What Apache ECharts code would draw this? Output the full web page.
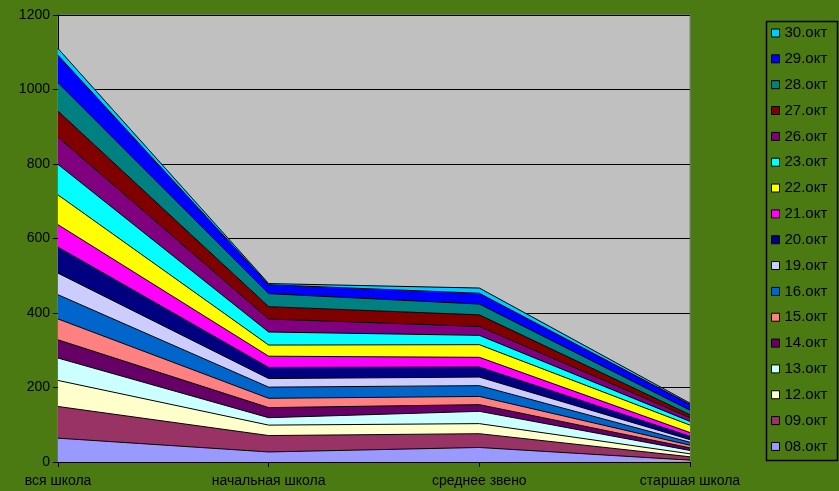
<!DOCTYPE html>
<html>
<head>
<meta charset="utf-8">
<script src="https://cdn.jsdelivr.net/npm/echarts@6/dist/echarts.min.js"></script>
<style>
html,body{margin:0;padding:0;background:#4B7A12;}
#c{width:839px;height:491px;}
</style>
</head>
<body>
<div id="c"></div>
<script>
const categories = ['вся школа', 'начальная школа', 'среднее звено', 'старшая школа'];
const yTicks = [0, 200, 400, 600, 800, 1000, 1200];

const s08 = [64, 27, 39, 5];
const s09 = [85, 44, 37, 9];
const s12 = [70, 28, 27, 8];
const s13 = [60, 20, 33, 9];
const s14 = [49, 27, 18, 7];
const s15 = [56, 25, 22, 7];
const s16 = [65, 30, 29, 8];
const s19 = [58, 23, 23, 7];
const s20 = [70, 30, 27, 9];
const s21 = [60, 30, 26, 10];
const s22 = [80, 30, 34, 20];
const s23 = [82, 35, 25, 10];
const s26 = [73, 35, 24, 10];
const s27 = [70, 33, 31, 8];
const s28 = [76, 35, 29, 12];
const s29 = [74, 24, 29, 16];
const s30 = [18, 3, 14, 3];

const seriesNames = ['08.окт','09.окт','12.окт','13.окт','14.окт','15.окт','16.окт','19.окт','20.окт','21.окт','22.окт','23.окт','26.окт','27.окт','28.окт','29.окт','30.окт'];
const seriesValues = [s08,s09,s12,s13,s14,s15,s16,s19,s20,s21,s22,s23,s26,s27,s28,s29,s30];
const seriesColors = ['#9999FF','#993366','#FFFFCC','#CCFFFF','#660066','#FF8080','#0066CC','#CCCCFF','#000080','#FF00FF','#FFFF00','#00FFFF','#800080','#800000','#008080','#0000FF','#00CCFF'];

const font = 'Arial, "Liberation Sans", sans-serif';
const chart = echarts.init(document.getElementById('c'));

chart.setOption({
  backgroundColor: '#4B7A12',
  animation: false,
  grid: {
    left: 58, right: 149, top: 15, bottom: 29,
    show: true, backgroundColor: '#C0C0C0', borderColor: '#808080', borderWidth: 1
  },
  legend: {
    orient: 'vertical',
    left: 764, top: 19,
    padding: [6, 2, 4, 7],
    itemWidth: 8, itemHeight: 8, itemGap: 9.84,
    icon: 'rect',
    data: seriesNames.slice().reverse(),
    textStyle: { fontFamily: font, fontSize: 15, color: '#000', lineHeight: 16 },
    itemStyle: { borderColor: '#000', borderWidth: 1 }
  },
  graphic: [{
    type: 'rect', left: 764, top: 19,
    shape: { width: 71, height: 439 },
    style: { fill: 'none', stroke: '#000', lineWidth: 1.5 },
    z: 100
  }],
  xAxis: {
    type: 'category',
    data: categories,
    boundaryGap: false,
    axisLine: { lineStyle: { color: '#000', width: 1 } },
    axisTick: { show: true, length: 5, lineStyle: { color: '#000' } },
    axisLabel: { fontFamily: font, fontSize: 14, color: '#000', margin: 12 },
    splitLine: { show: false }
  },
  yAxis: {
    type: 'value',
    min: yTicks[0], max: yTicks[yTicks.length - 1], interval: 200,
    axisLine: { show: true, lineStyle: { color: '#000', width: 1 } },
    axisTick: { show: true, length: 5, lineStyle: { color: '#000' } },
    axisLabel: { fontFamily: font, fontSize: 14, color: '#000', margin: 8, formatter: v => String(v) },
    splitLine: { show: true, lineStyle: { color: '#000', width: 1 } }
  },
  series: seriesNames.map((n, i) => ({
    name: n,
    type: 'line',
    stack: 'total',
    data: seriesValues[i],
    symbol: 'none',
    color: seriesColors[i],
    lineStyle: { color: '#000', width: 1 },
    areaStyle: { color: seriesColors[i], opacity: 1 },
    itemStyle: { color: seriesColors[i], borderColor: '#000', borderWidth: 1 }
  }))
});
</script>
</body>
</html>
